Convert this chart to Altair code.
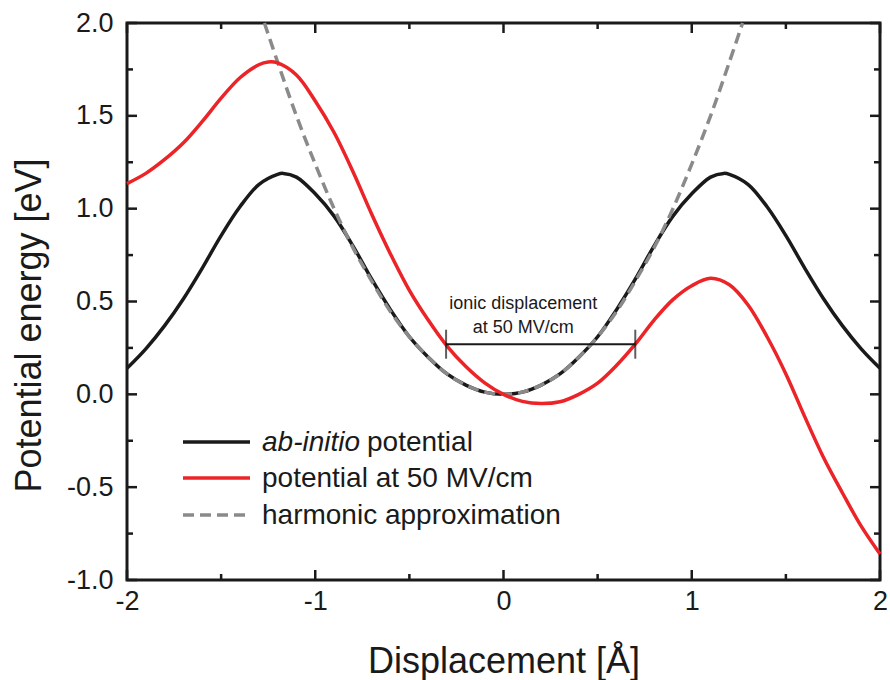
import altair as alt
import pandas as pd

# ---------------- data ----------------
abinitio_x = [-2.0, -1.9, -1.8, -1.7, -1.6, -1.5, -1.4, -1.3, -1.2, -1.17, -1.1, -1.0, -0.9, -0.8, -0.7, -0.6,
              -0.5, -0.4, -0.3, -0.2, -0.1, 0.0,
              0.1, 0.2, 0.3, 0.4, 0.5, 0.6, 0.7, 0.8, 0.9, 1.0, 1.1, 1.17, 1.2, 1.3, 1.4, 1.5, 1.6, 1.7, 1.8, 1.9, 2.0]
abinitio_y = [0.14, 0.245, 0.37, 0.515, 0.68, 0.855, 1.01, 1.13, 1.185, 1.19, 1.17, 1.08, 0.96, 0.80, 0.62, 0.455,
              0.31, 0.20, 0.11, 0.05, 0.012, 0.0,
              0.012, 0.05, 0.11, 0.20, 0.31, 0.455, 0.62, 0.80, 0.96, 1.08, 1.17, 1.19, 1.185, 1.13, 1.01, 0.855,
              0.68, 0.515, 0.37, 0.245, 0.14]

field_x = [-2.0, -1.9, -1.8, -1.7, -1.6, -1.5, -1.4, -1.3, -1.25, -1.2, -1.1, -1.0, -0.9, -0.8, -0.7, -0.6, -0.5,
           -0.4, -0.3, -0.2, -0.1, 0.0, 0.1, 0.2, 0.3, 0.4, 0.5, 0.6, 0.7, 0.8, 0.9, 1.0, 1.1, 1.2, 1.3, 1.4,
           1.5, 1.6, 1.7, 1.8, 1.9, 2.0]
field_y = [1.135, 1.19, 1.265, 1.355, 1.47, 1.595, 1.705, 1.775, 1.79, 1.785, 1.72, 1.58, 1.41, 1.20, 0.97, 0.755,
           0.56, 0.40, 0.26, 0.15, 0.062, 0.0, -0.038, -0.05, -0.04, 0.0, 0.06, 0.155, 0.27, 0.40, 0.51, 0.585,
           0.625, 0.59, 0.48, 0.31, 0.11, -0.12, -0.34, -0.53, -0.71, -0.86]

harm_x = [-1.27, -1.2, -1.1, -1.0, -0.9, -0.8, -0.7, -0.6, -0.5, -0.4, -0.3, -0.2, -0.1, 0.0,
          0.1, 0.2, 0.3, 0.4, 0.5, 0.6, 0.7, 0.8, 0.9, 1.0, 1.1, 1.2, 1.27]
harm_y = [2.0, 1.79, 1.50, 1.24, 1.00, 0.79, 0.61, 0.445, 0.31, 0.20, 0.11, 0.05, 0.012, 0.0,
          0.012, 0.05, 0.11, 0.20, 0.31, 0.445, 0.61, 0.79, 1.00, 1.24, 1.50, 1.79, 2.0]

# ionic displacement bar
bar_x = [-0.305, 0.70]
bar_y = [0.27, 0.27]
note_lines = ["ionic displacement", "at 50 MV/cm"]
note_x = [0.105, 0.105]
note_y = [0.458, 0.328]

legend_labels = ["ab-initio", "potential", "potential at 50 MV/cm", "harmonic approximation"]

x_major = [-2, -1, 0, 1, 2]
x_minor = [-1.5, -0.5, 0.5, 1.5]
y_major = [-1.0, -0.5, 0.0, 0.5, 1.0, 1.5, 2.0]
y_minor = [-0.75, -0.25, 0.25, 0.75, 1.25, 1.75]

# ---------------- chart ----------------
W, H = 753, 557
FONT = "Liberation Sans"
BLACK = "#1a1a1a"
RED = "#ec2327"
GRAY = "#8a8a8a"

xs = alt.Scale(domain=[-2, 2], nice=False, zero=False)
ys = alt.Scale(domain=[-1, 2], nice=False, zero=False)

df_ab = pd.DataFrame({"x": abinitio_x, "y": abinitio_y})
df_field = pd.DataFrame({"x": field_x, "y": field_y})
df_harm = pd.DataFrame({"x": harm_x, "y": harm_y})

x_axis = alt.Axis(values=x_major, format="d", title="Displacement [Å]",
                  labelExpr="replace(datum.label, '\u2212', '-')", labelFlush=False,
                  labelFontSize=27, labelPadding=8, titleFontSize=36, titleFontWeight="normal",
                  titleY=92, titleBaseline="alphabetic", ticks=False, tickSize=0, domain=False, grid=False)
y_axis = alt.Axis(values=y_major, format=".1f", title="Potential energy [eV]",
                  labelExpr="replace(datum.label, '\u2212', '-')", labelFlush=False,
                  labelFontSize=27, labelPadding=14, titleFontSize=36, titleFontWeight="normal",
                  titleX=-87, titleY=302, titleAngle=270, titleAlign="center", titleBaseline="alphabetic",
                  ticks=False, tickSize=0, domain=False, grid=False)


def X(field):
    return alt.X(field, scale=xs, axis=x_axis)


def Y(field):
    return alt.Y(field, scale=ys, axis=y_axis)


black_line = alt.Chart(df_ab).mark_line(color=BLACK, strokeWidth=3.5, interpolate="catmull-rom").encode(
    x=X("x:Q"), y=Y("y:Q"))
harm_line = alt.Chart(df_harm).mark_line(color=GRAY, strokeWidth=3.5, strokeDash=[11, 6],
                                         interpolate="catmull-rom").encode(x=X("x:Q"), y=Y("y:Q"))
red_line = alt.Chart(df_field).mark_line(color=RED, strokeWidth=3.5, interpolate="catmull-rom").encode(
    x=X("x:Q"), y=Y("y:Q"))

# error bar annotation
df_bar = pd.DataFrame({"x": [bar_x[0]], "x2": [bar_x[1]], "y": [bar_y[0]]})
bar_rule = alt.Chart(df_bar).mark_rule(color=BLACK, strokeWidth=2).encode(
    x=X("x:Q"), x2="x2:Q", y=Y("y:Q"))
df_caps = pd.DataFrame({"x": bar_x, "y": bar_y})
bar_caps = alt.Chart(df_caps).mark_tick(orient="vertical", size=29, thickness=2, color=BLACK).encode(
    x=X("x:Q"), y=Y("y:Q"))
df_note = pd.DataFrame({"x": note_x, "y": note_y, "t": note_lines})
note = alt.Chart(df_note).mark_text(font=FONT, fontSize=18, color=BLACK, align="center",
                                    baseline="alphabetic").encode(x=X("x:Q"), y=Y("y:Q"), text="t:N")


# inward ticks on all four sides
def ticks(values, side, length):
    d = pd.DataFrame({"x": values}) if side in ("bottom", "top") else pd.DataFrame({"y": values})
    c = alt.Chart(d).mark_rule(color=BLACK, strokeWidth=2.5)
    if side == "bottom":
        return c.encode(x=X("x:Q"), y=alt.value(H), y2=alt.value(H - length))
    if side == "top":
        return c.encode(x=X("x:Q"), y=alt.value(0), y2=alt.value(length))
    if side == "left":
        return c.encode(y=Y("y:Q"), x=alt.value(0), x2=alt.value(length))
    return c.encode(y=Y("y:Q"), x=alt.value(W), x2=alt.value(W - length))


tick_layers = []
for side in ["bottom", "top"]:
    tick_layers.append(ticks(x_major, side, 10))
    tick_layers.append(ticks(x_minor, side, 6))
for side in ["left", "right"]:
    tick_layers.append(ticks(y_major, side, 10))
    tick_layers.append(ticks(y_minor, side, 6))

# manual legend (pixel positions inside plot area)
one = alt.Data(values=[{"a": 1}])
LX1, LX2, TX = 56, 123, 135
rows = [419, 455, 492]
leg = []
leg.append(alt.Chart(one).mark_rule(color=BLACK, strokeWidth=3.5).encode(
    x=alt.value(LX1), x2=alt.value(LX2), y=alt.value(rows[0])))
leg.append(alt.Chart(one).mark_rule(color=RED, strokeWidth=3.5).encode(
    x=alt.value(LX1), x2=alt.value(LX2), y=alt.value(rows[1])))
leg.append(alt.Chart(one).mark_rule(color=GRAY, strokeWidth=3.5, strokeDash=[11, 6]).encode(
    x=alt.value(LX1), x2=alt.value(LX2), y=alt.value(rows[2])))
txt = dict(font=FONT, fontSize=28, color=BLACK, align="left", baseline="alphabetic")
leg.append(alt.Chart(one).mark_text(fontStyle="italic", **txt).encode(
    x=alt.value(TX), y=alt.value(rows[0] + 9), text=alt.value(legend_labels[0])))
leg.append(alt.Chart(one).mark_text(**txt).encode(
    x=alt.value(240), y=alt.value(rows[0] + 9), text=alt.value(legend_labels[1])))
leg.append(alt.Chart(one).mark_text(**txt).encode(
    x=alt.value(TX), y=alt.value(rows[1] + 9), text=alt.value(legend_labels[2])))
leg.append(alt.Chart(one).mark_text(**txt).encode(
    x=alt.value(TX), y=alt.value(rows[2] + 9), text=alt.value(legend_labels[3])))

chart = alt.layer(black_line, harm_line, red_line, bar_rule, bar_caps, note, *tick_layers, *leg).properties(
    width=W, height=H,
    autosize=alt.AutoSizeParams(type="none"),
    padding={"left": 127, "top": 23, "right": 10, "bottom": 100},
    background="white",
).configure_view(stroke=BLACK, strokeWidth=3).configure_axis(
    labelFont=FONT, titleFont=FONT, labelColor=BLACK, titleColor=BLACK
)

chart.save("out.html", embed_options={"renderer": "svg", "actions": False})
